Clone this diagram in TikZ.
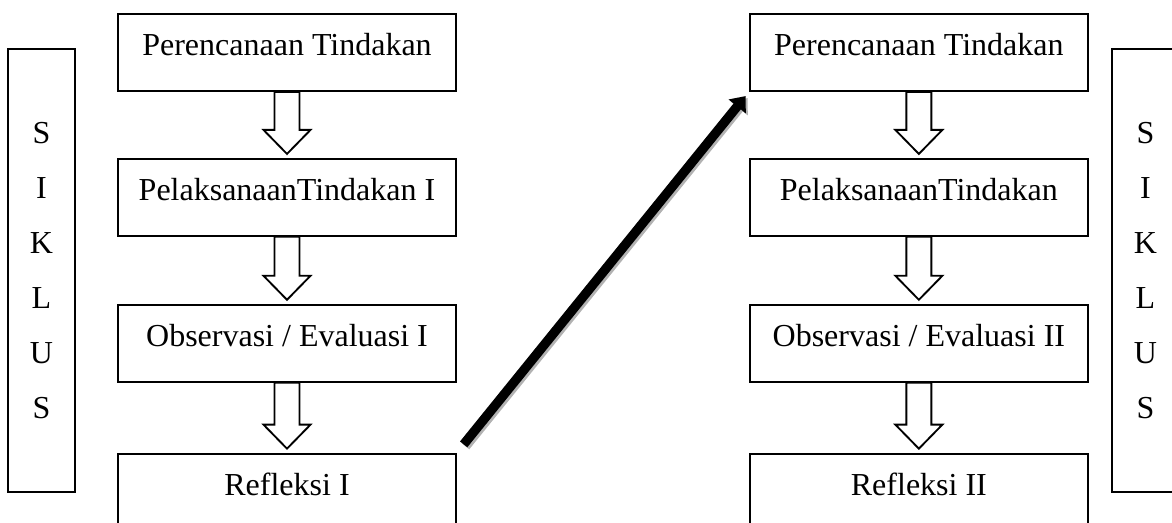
\documentclass[tikz,border=0pt]{standalone}
\usepackage{fontspec}
\setmainfont{Liberation Serif}
\usetikzlibrary{positioning,calc,arrows.meta}

\tikzset{
  stage/.style={draw, line width=1.4pt, minimum width=253.5pt, inner xsep=0pt, inner ysep=0pt,
    text height=31.5pt, text depth=26.25pt, font=\fontsize{24}{28}\selectfont},
  laststage/.style={stage, text depth=30pt},
  siklus/.style={draw, line width=1.4pt, minimum width=50.25pt, minimum height=332.25pt,
    align=center, font=\fontsize{24}{41.25}\selectfont},
  hollow/.style={draw, line width=1.4pt, fill=white, line join=miter},
  bigarrow/.style={line width=7pt, -{Triangle[length=10pt,width=16pt]}, shorten <=8pt, shorten >=4pt},
}

% open block arrow from the bottom of one stage to the top of the next
\newcommand{\stagearrow}[2]{%
  \draw[hollow] let \p1=(#1.south), \p2=(#2.north) in
    (\x1-9.4pt,\y1) -- (\x1-9.4pt,\y2+21pt) -- (\x1-17.6pt,\y2+21pt)
    -- (\x1,\y2+3pt) -- (\x1+17.6pt,\y2+21pt) -- (\x1+9.4pt,\y2+21pt)
    -- (\x1+9.4pt,\y1) -- cycle;}

\begin{document}
\begin{tikzpicture}[x=0.75pt, y=-0.75pt]
  \useasboundingbox (0,0) rectangle (1172,523);
  \clip (0,0) rectangle (1172,523);
  % cycle labels
  \node[siklus] (sik1) at (41.5,270.5) {S\\I\\K\\L\\U\\S};
  \node[siklus] (sik2) at (1145.5,270.5) {S\\I\\K\\L\\U\\S};
  % first cycle
  \node[stage] (per1) at (287,52.5) {Perencanaan Tindakan};
  \node[stage, below=49.5pt of per1] (pel1) {PelaksanaanTindakan I};
  \node[stage, below=50.25pt of pel1] (obs1) {Observasi / Evaluasi I};
  \node[laststage, below=52.5pt of obs1] (ref1) {Refleksi I};
  % second cycle
  \node[stage, right=219pt of per1] (per2) {Perencanaan Tindakan};
  \node[stage, below=49.5pt of per2] (pel2) {PelaksanaanTindakan};
  \node[stage, below=50.25pt of pel2] (obs2) {Observasi / Evaluasi II};
  \node[laststage, below=52.5pt of obs2] (ref2) {Refleksi II};
  % steps inside each cycle
  \stagearrow{per1}{pel1}
  \stagearrow{pel1}{obs1}
  \stagearrow{obs1}{ref1}
  \stagearrow{per2}{pel2}
  \stagearrow{pel2}{obs2}
  \stagearrow{obs2}{ref2}
  % from reflection back to planning
  \draw[bigarrow, black!30, transform canvas={shift={(1.5pt,-1.5pt)}}] (ref1.north east) -- (per2.south west);
  \draw[bigarrow] (ref1.north east) -- (per2.south west);
\end{tikzpicture}
\end{document}
